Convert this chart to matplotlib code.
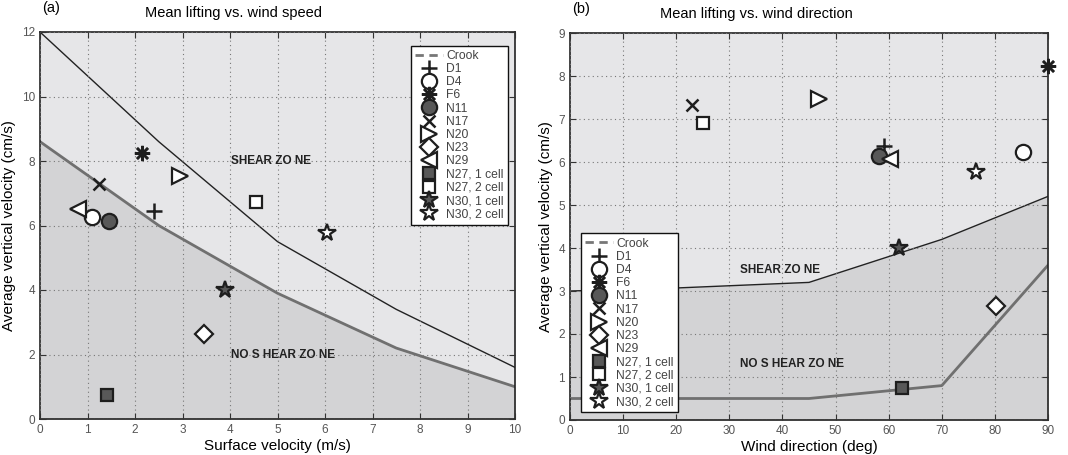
import matplotlib
matplotlib.use("Agg")
import matplotlib.pyplot as plt
from matplotlib.lines import Line2D

plt.rcParams['font.family'] = ['Liberation Sans', 'DejaVu Sans']

# ---------------- data ----------------
labels = ["D1", "D4", "F6", "N11", "N17", "N20", "N23", "N29",
          "N27, 1 cell", "N27, 2 cell", "N30, 1 cell", "N30, 2 cell"]
markers = ["+", "o", "ast", "o", "x", ">", "D", "<", "s", "s", "*", "*"]
filled = [False, False, False, True, False, False, False, False, True, False, True, False]

# panel (a): surface velocity (m/s) vs mean lifting (cm/s)
speed = [2.4, 1.1, 2.15, 1.45, 1.25, 2.95, 3.45, 0.8, 1.4, 4.55, 3.9, 6.05]
lift_a = [6.45, 6.25, 8.25, 6.15, 7.3, 7.55, 2.65, 6.5, 0.75, 6.72, 4.0, 5.78]

# panel (b): wind direction (deg) vs mean lifting (cm/s)
direction = [59.2, 85.3, 90.0, 58.1, 23.0, 46.8, 80.3, 60.3, 62.5, 25.0, 62.0, 76.5]
lift_b = [6.37, 6.24, 8.24, 6.15, 7.33, 7.46, 2.65, 6.07, 0.74, 6.9, 3.99, 5.76]

# Crook curves, panel (a)
crook_a_x = [0, 2.5, 5, 7.5, 10]
crook_a_upper = [12.0, 8.6, 5.5, 3.4, 1.6]
crook_a_lower = [8.6, 6.0, 3.9, 2.2, 1.0]

# Crook curves, panel (b)
crook_b_upper_x = [0, 20, 45, 70, 90]
crook_b_upper = [3.0, 3.07, 3.2, 4.2, 5.2]
crook_b_lower_x = [0, 45, 70, 90]
crook_b_lower = [0.5, 0.5, 0.8, 3.6]

LIGHT = "#e6e6e8"
DARK = "#d3d3d5"
EDGE = "#1e1e1e"
FILL = "#585858"
GRAYLINE = "#707070"


def marker_kw(m, f):
    sizes = {"+": 12, "o": 11, "ast": 11, "x": 8, ">": 12, "D": 9, "<": 12,
             "s": 9, "*": 13}
    kw = dict(linestyle="none", markeredgecolor=EDGE, markeredgewidth=1.6,
              markersize=sizes[m])
    kw["marker"] = (8, 2, 0) if m == "ast" else m
    if m in ("+", "x", "ast"):
        kw["markeredgewidth"] = 1.8
        kw["markerfacecolor"] = EDGE
    else:
        kw["markerfacecolor"] = FILL if f else "white"
    return kw


def style_axes(ax, xlim, ylim, xticks, yticks):
    ax.set_facecolor(LIGHT)
    ax.set_xlim(*xlim)
    ax.set_ylim(*ylim)
    ax.set_xticks(xticks)
    ax.set_yticks(yticks)
    ax.grid(True, linestyle=(0, (1, 3)), color="#777777", linewidth=0.8)
    ax.set_axisbelow(False)
    ax.tick_params(direction="in", length=4, labelsize=8.5, colors="#333333",
                   labelcolor="#555555", top=True, right=True)
    for s in ax.spines.values():
        s.set_linewidth(1.2)
        s.set_color("#222222")


fig = plt.figure(figsize=(10.68, 4.55), dpi=100)
axa = fig.add_axes([40 / 1068, 1 - 419 / 455, 475 / 1068, 387 / 455])
axb = fig.add_axes([570 / 1068, 1 - 420 / 455, 478 / 1068, 387 / 455])

# ---------- panel (a) ----------
style_axes(axa, (0, 10), (0, 12), range(0, 11), range(0, 13, 2))
axa.fill_between(crook_a_x, 0, crook_a_lower, color=DARK, zorder=0.5, linewidth=0)
axa.plot(crook_a_x, crook_a_upper, color="#222222", lw=1.0, zorder=1.5)
axa.plot(crook_a_x, crook_a_lower, color=GRAYLINE, lw=2.0, zorder=1.5)
axa.text(4.02, 8.0, "SHEAR ZO NE", fontsize=8.5, fontweight="bold", color="#222222",
         va="center", ha="left")
axa.text(4.02, 2.0, "NO S HEAR ZO NE", fontsize=8.5, fontweight="bold", color="#222222",
         va="center", ha="left")
for xv, yv, m, f in zip(speed, lift_a, markers, filled):
    axa.plot([xv], [yv], zorder=3, clip_on=False, **marker_kw(m, f))
axa.set_xlabel("Surface velocity (m/s)", fontsize=11, labelpad=2)
axa.set_ylabel("Average vertical velocity (cm/s)", fontsize=11, labelpad=4)
axa.text(0.221, 1.03, "Mean lifting vs. wind speed", transform=axa.transAxes,
         fontsize=10.5, ha="left", va="bottom")
axa.text(0.005, 1.045, "(a)", transform=axa.transAxes, fontsize=10.5, ha="left",
         va="bottom")

# ---------- panel (b) ----------
style_axes(axb, (0, 90), (0, 9), range(0, 91, 10), range(0, 10))
axb.fill_between(crook_b_upper_x, 0, crook_b_upper, color=DARK, zorder=0.5, linewidth=0)
axb.plot(crook_b_upper_x, crook_b_upper, color="#222222", lw=1.0, zorder=1.5)
axb.plot(crook_b_lower_x, crook_b_lower, color=GRAYLINE, lw=2.0, zorder=1.5)
axb.text(32, 3.5, "SHEAR ZO NE", fontsize=8.5, fontweight="bold", color="#222222",
         va="center", ha="left")
axb.text(32, 1.3, "NO S HEAR ZO NE", fontsize=8.5, fontweight="bold", color="#222222",
         va="center", ha="left")
for xv, yv, m, f in zip(direction, lift_b, markers, filled):
    axb.plot([xv], [yv], zorder=3, clip_on=False, **marker_kw(m, f))
axb.set_xlabel("Wind direction (deg)", fontsize=11, labelpad=2)
axb.set_ylabel("Average vertical velocity (cm/s)", fontsize=11, labelpad=4)
axb.text(0.188, 1.03, "Mean lifting vs. wind direction", transform=axb.transAxes,
         fontsize=10.5, ha="left", va="bottom")
axb.text(0.005, 1.045, "(b)", transform=axb.transAxes, fontsize=10.5, ha="left",
         va="bottom")

# ---------- legends ----------
handles = [Line2D([0], [0], color="#777777", lw=2, ls=(0, (3, 2)))]
for m, f in zip(markers, filled):
    handles.append(Line2D([0], [0], **marker_kw(m, f)))
leg_labels = ["Crook"] + labels

for ax, loc, anchor in ((axa, "upper right", (0.985, 0.965)),
                        (axb, "lower left", (0.022, 0.02))):
    leg = ax.legend(handles, leg_labels, loc=loc, bbox_to_anchor=anchor,
                    fontsize=8.7, frameon=True, fancybox=False, handlelength=2.3,
                    handletextpad=0.3, labelspacing=0.1, borderpad=0.35,
                    borderaxespad=0.0)
    leg.get_frame().set_edgecolor("#111111")
    leg.get_frame().set_linewidth(1.0)
    leg.get_frame().set_facecolor("white")
    leg.get_frame().set_alpha(1.0)
    leg.set_zorder(5)
    for t in leg.get_texts():
        t.set_color("#444444")

fig.savefig("out.png", dpi=100)
